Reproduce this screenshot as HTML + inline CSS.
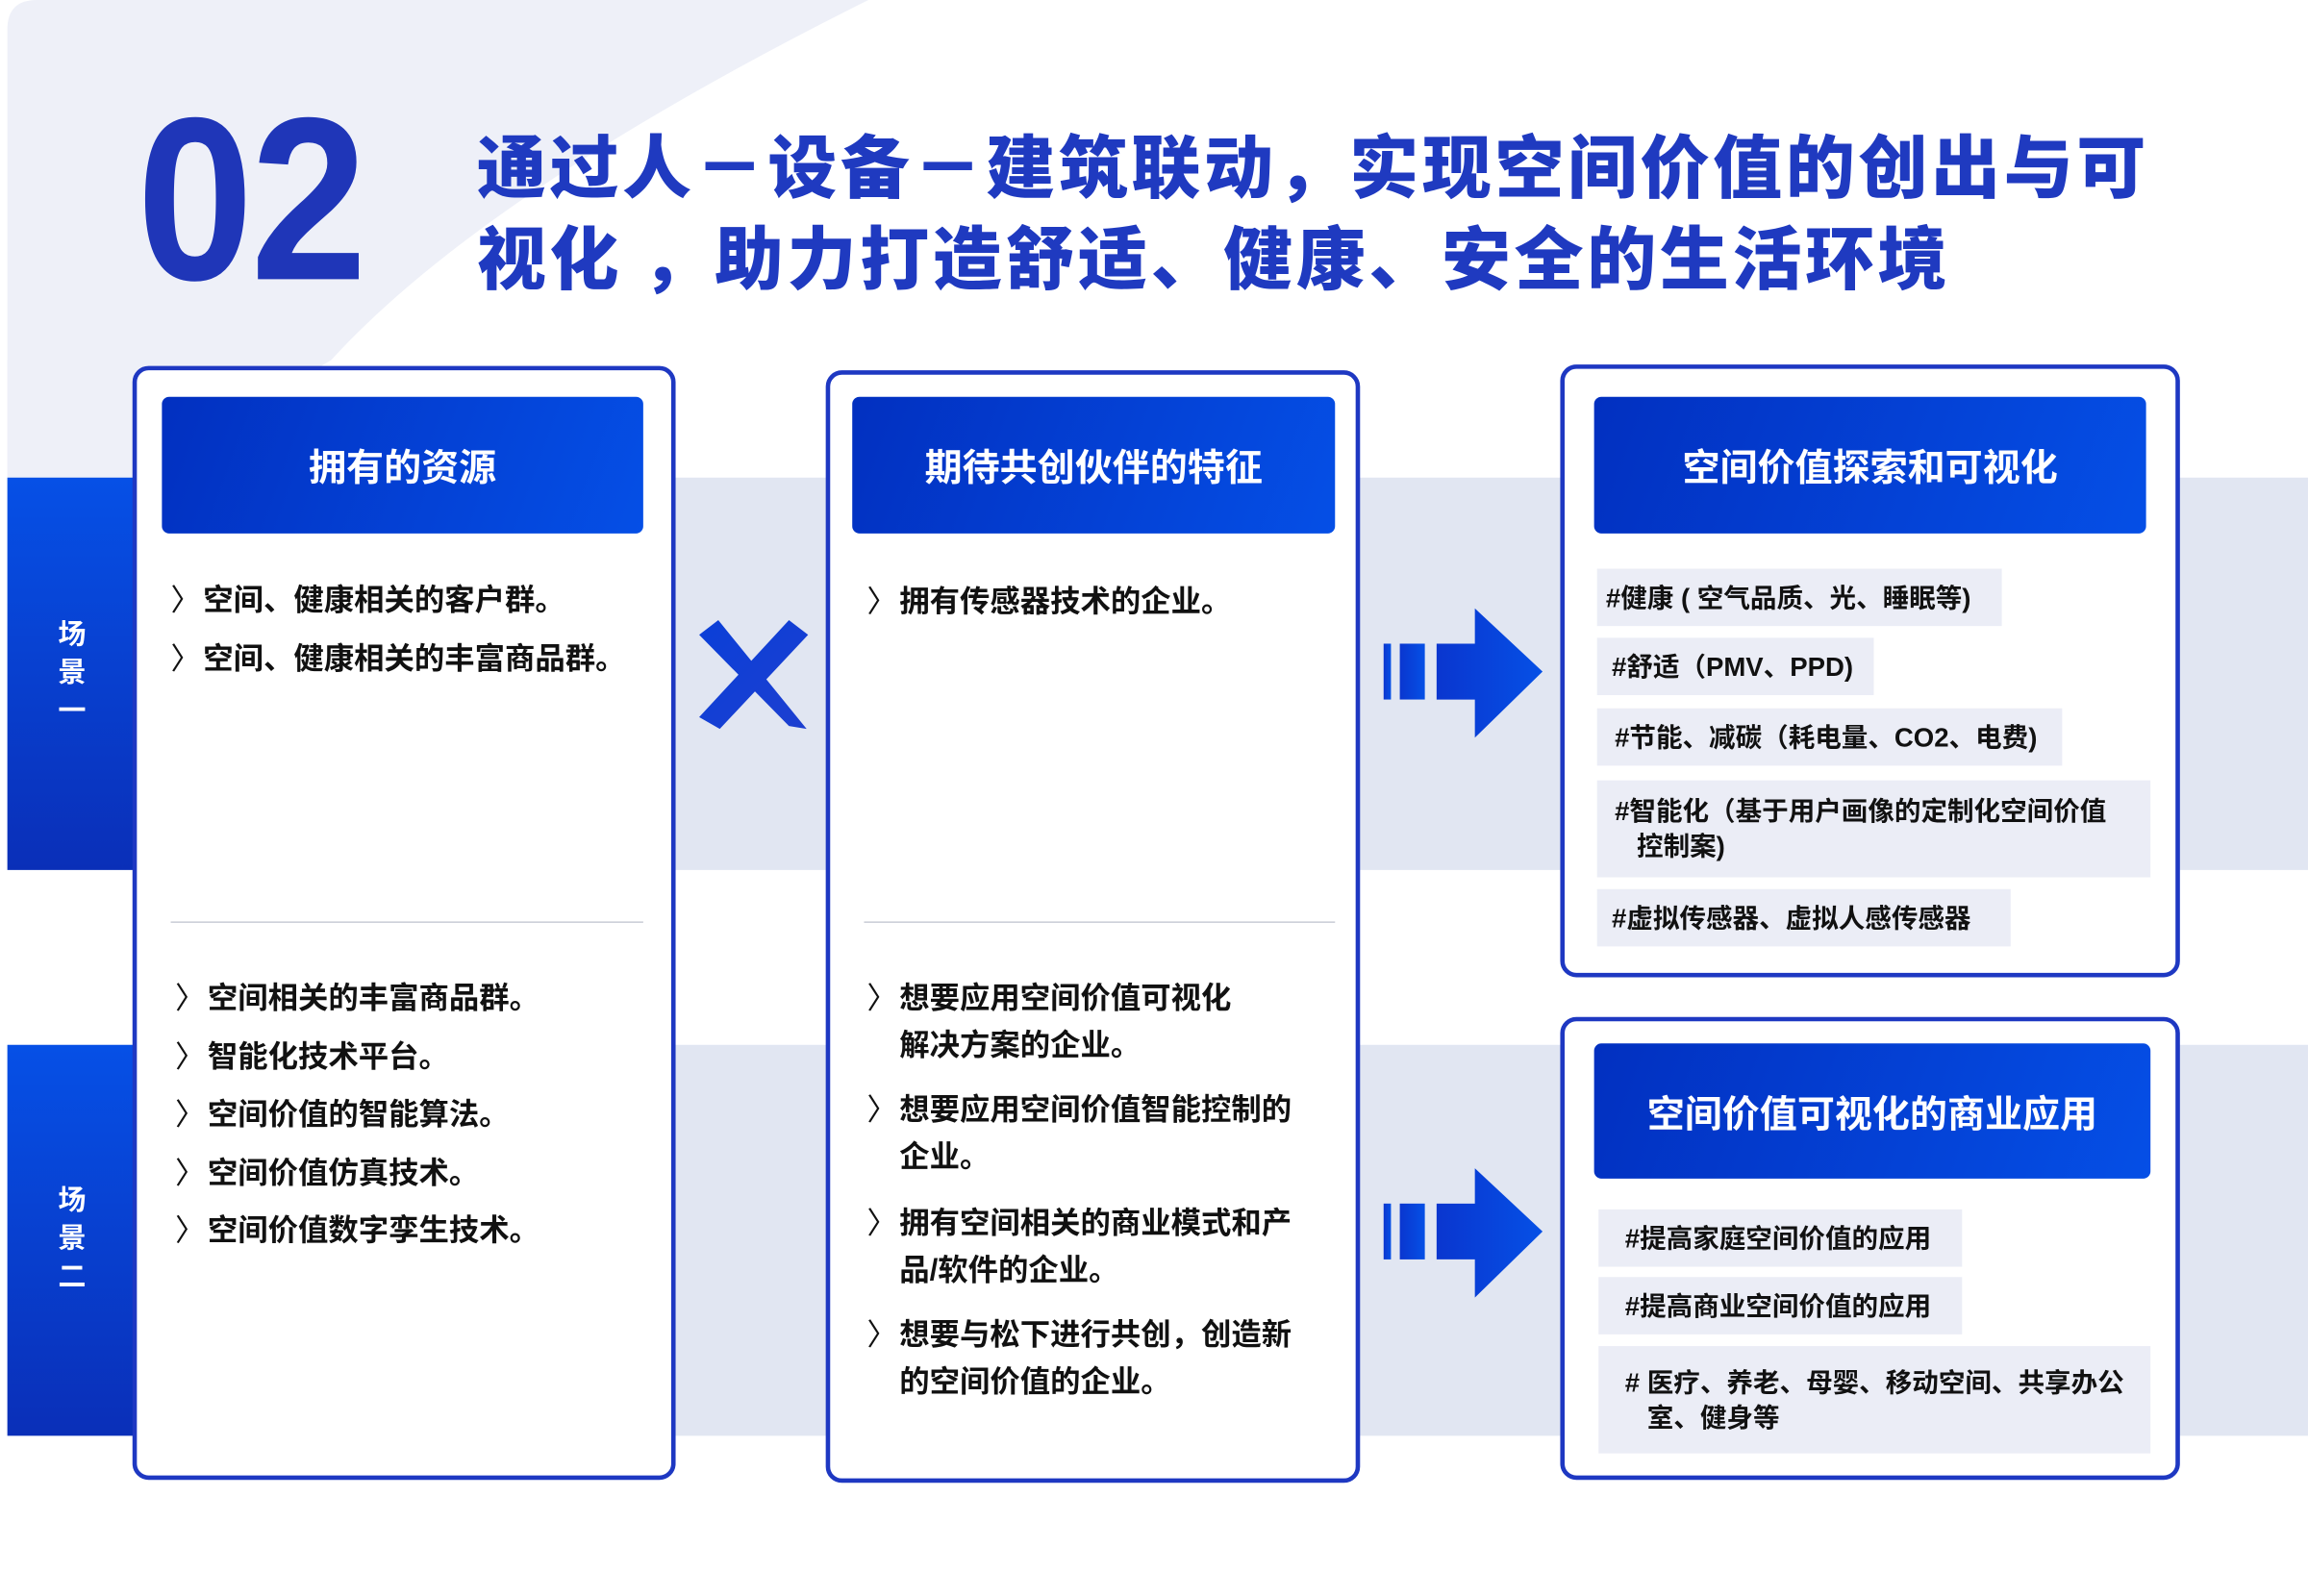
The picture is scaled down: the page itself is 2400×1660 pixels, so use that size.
<!DOCTYPE html>
<html><head><meta charset="utf-8"><style>
html,body{margin:0;padding:0;background:#fff;}
body{width:2400px;height:1660px;overflow:hidden;position:relative;}
#s{position:absolute;left:0;top:0;width:1568px;height:1086px;transform:scale(1.5306,1.5285);transform-origin:0 0;font-family:"Liberation Sans","Noto Sans CJK SC",sans-serif;}
.a{position:absolute;}
.band{background:#e1e6f2;left:5px;width:1563px;}
.tab{background:linear-gradient(180deg,#0650e6,#0a2fb8);left:5px;width:88px;color:#fff;font-weight:700;font-size:19px;line-height:26px;text-align:center;display:flex;flex-direction:column;justify-content:center;align-items:center;}
.card{border:3px solid #1e38c2;border-radius:11px;background:#fff;box-sizing:border-box;}
.hd{background:linear-gradient(110deg,#0230c0,#054fe6);border-radius:5px;color:#fff;font-weight:700;font-size:25.5px;display:flex;align-items:center;justify-content:center;}
.it{font-size:20.5px;font-weight:700;color:#111;line-height:32px;white-space:nowrap;}
.it span.c{position:absolute;margin-left:-22px;font-weight:400;}
.tag{background:#ebedf6;font-size:18px;font-weight:700;color:#111;box-sizing:border-box;padding-left:8px;display:flex;align-items:center;line-height:24px;white-space:nowrap;}
hr{position:absolute;border:0;border-top:1px solid #c9ccd6;margin:0;height:0;}
</style></head><body><div id="s">
<svg class="a" style="left:0;top:0" width="1568" height="1086">
<path d="M5 20 Q5 0 25 0 L590 0 Q330 130 225 245 L5 325 Z" fill="#eef0f8"/>
<path d="M5 245 L225 245 Q150 290 92 325 L5 325Z" fill="#eef0f8"/>
</svg>
<div class="a band" style="top:325px;height:267px"></div>
<div class="a band" style="top:711px;height:266px"></div>
<div class="a tab" style="top:325px;height:267px"><div>场<br>景<br>一</div></div>
<div class="a tab" style="top:711px;height:266px"><div>场<br>景<br>二</div></div>

<div class="a" style="left:93px;top:56px;font-size:158px;font-weight:700;color:#1f36b8;letter-spacing:-2px;line-height:160px;transform:scaleX(0.9);transform-origin:0 0;">02</div>
<div class="a" style="left:324px;top:80px;font-size:47px;font-weight:900;color:#1f3ac0;line-height:62px;white-space:nowrap;letter-spacing:2.4px;font-family:'Noto Sans CJK SC',sans-serif;">通过人－设备－建筑联动，实现空间价值的创出与可<br>视化 ，助力打造舒适、健康、安全的生活环境</div>

<div class="a card" style="left:90px;top:249px;width:369px;height:758px"></div>
<div class="a hd" style="left:110px;top:270px;width:327px;height:93px">拥有的资源</div>
<div class="a it" style="left:138px;top:393px"><span class="c">〉</span>空间、健康相关的客户群。</div>
<div class="a it" style="left:138px;top:433px"><span class="c">〉</span>空间、健康相关的丰富商品群。</div>
<hr style="left:116px;top:627px;width:321px">
<div class="a it" style="left:141px;top:660px;line-height:39.5px"><div><span class="c">〉</span>空间相关的丰富商品群。</div><div><span class="c">〉</span>智能化技术平台。</div><div><span class="c">〉</span>空间价值的智能算法。</div><div><span class="c">〉</span>空间价值仿真技术。</div><div><span class="c">〉</span>空间价值数字孪生技术。</div></div>

<svg class="a" style="left:470px;top:418px" width="84" height="82"><defs><linearGradient id="g1" x1="0" y1="0" x2="1" y2="1"><stop offset="0" stop-color="#0a3fd8"/><stop offset="1" stop-color="#1d3fd0"/></linearGradient></defs>
<path d="M5 14 L18 4 L78 78 L66 76 Z M66 4 L79 14 L19 78 L5 70Z" fill="url(#g1)"/></svg>

<div class="a card" style="left:561px;top:252px;width:363px;height:757px"></div>
<div class="a hd" style="left:579px;top:270px;width:328px;height:93px">期待共创伙伴的特征</div>
<div class="a it" style="left:611px;top:394px"><span class="c">〉</span>拥有传感器技术的企业。</div>
<hr style="left:587px;top:627px;width:320px">
<div class="a it" style="left:611px;top:664px"><span class="c">〉</span>想要应用空间价值可视化<br>解决方案的企业。</div>
<div class="a it" style="left:611px;top:740px"><span class="c">〉</span>想要应用空间价值智能控制的<br>企业。</div>
<div class="a it" style="left:611px;top:817px"><span class="c">〉</span>拥有空间相关的商业模式和产<br>品/软件的企业。</div>
<div class="a it" style="left:611px;top:893px"><span class="c">〉</span>想要与松下进行共创，创造新<br>的空间价值的企业。</div>

<svg class="a" style="left:938px;top:412px" width="115" height="92"><defs><linearGradient id="g2" x1="0" x2="1"><stop offset="0" stop-color="#0a36cf"/><stop offset="1" stop-color="#0550e6"/></linearGradient></defs>
<g fill="url(#g2)"><rect x="2" y="26" width="5" height="38"/><rect x="13" y="26" width="17" height="38"/><path d="M38 26 H64 V2 L110 45 L64 90 V64 H38Z"/></g></svg>
<svg class="a" style="left:938px;top:793px" width="115" height="92">
<g fill="url(#g2)"><rect x="2" y="26" width="5" height="38"/><rect x="13" y="26" width="17" height="38"/><path d="M38 26 H64 V2 L110 45 L64 90 V64 H38Z"/></g></svg>

<div class="a card" style="left:1060px;top:248px;width:421px;height:417px"></div>
<div class="a hd" style="left:1083px;top:270px;width:375px;height:93px">空间价值探索和可视化</div>
<div class="a tag" style="left:1085px;top:387px;width:275px;height:39px;padding-left:6px">#健康 ( 空气品质、光、睡眠等)</div>
<div class="a tag" style="left:1085px;top:434px;width:188px;height:39px;padding-left:10px">#舒适（PMV、PPD)</div>
<div class="a tag" style="left:1085px;top:482px;width:316px;height:39px;padding-left:12px">#节能、减碳（耗电量、CO2、电费)</div>
<div class="a tag" style="left:1085px;top:531px;width:376px;height:66px;align-items:flex-start;padding-top:9px;padding-left:12px"><div>#智能化（基于用户画像的定制化空间价值<br>&nbsp;&nbsp;&nbsp;控制案)</div></div>
<div class="a tag" style="left:1085px;top:605px;width:281px;height:39px;padding-left:10px">#虚拟传感器、虚拟人感传感器</div>

<div class="a card" style="left:1060px;top:692px;width:421px;height:315px"></div>
<div class="a hd" style="left:1083px;top:710px;width:378px;height:92px">空间价值可视化的商业应用</div>
<div class="a tag" style="left:1086px;top:823px;width:247px;height:39px;padding-left:18px">#提高家庭空间价值的应用</div>
<div class="a tag" style="left:1086px;top:869px;width:247px;height:39px;padding-left:18px">#提高商业空间价值的应用</div>
<div class="a tag" style="left:1086px;top:916px;width:375px;height:73px;padding-left:18px"><div>#&nbsp;医疗、养老、母婴、移动空间、共享办公<br>&nbsp;&nbsp;&nbsp;室、健身等</div></div>
</div></body></html>
